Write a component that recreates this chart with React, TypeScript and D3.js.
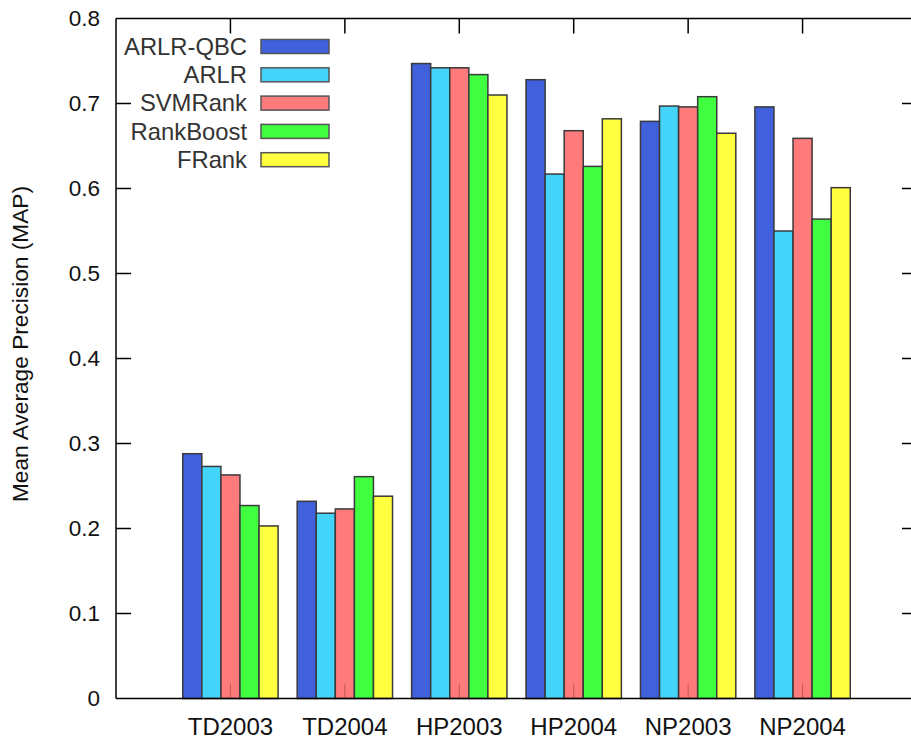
import React from "react";
import * as d3 from "d3";

const categories = ["TD2003", "TD2004", "HP2003", "HP2004", "NP2003", "NP2004"];
const seriesNames = ["ARLR-QBC", "ARLR", "SVMRank", "RankBoost", "FRank"];
const seriesColors = ["#4060dc", "#44d4fa", "#ff7a7a", "#40ff40", "#ffff40"];
const arlrQbc = [0.288, 0.232, 0.747, 0.728, 0.679, 0.696];
const arlr = [0.273, 0.218, 0.742, 0.617, 0.697, 0.550];
const svmRank = [0.263, 0.223, 0.742, 0.668, 0.696, 0.659];
const rankBoost = [0.227, 0.261, 0.734, 0.626, 0.708, 0.564];
const fRank = [0.203, 0.238, 0.710, 0.682, 0.665, 0.601];
const seriesValues = [arlrQbc, arlr, svmRank, rankBoost, fRank];
const yTicks = [0, 0.1, 0.2, 0.3, 0.4, 0.5, 0.6, 0.7, 0.8];

const W = 911;
const H = 740;
const FONT = "'Liberation Sans', Arial, Helvetica, sans-serif";

export default function App() {
  const x = d3.scaleLinear().domain([0, 7]).range([116, 917]);
  const y = d3.scaleLinear().domain([0, 0.8]).range([698.5, 18.5]);
  const bw = 1 / 6;
  const tickLen = 15;

  return (
    <svg
      width={W}
      height={H}
      style={{ position: "absolute", left: 0, top: 0, background: "#fff" }}
      fontFamily={FONT}
    >
      {/* bars */}
      {seriesValues.map((vals, s) => (
        <g key={s}>
          {vals.map((v, c) => {
            const x0 = x(c + 1 + (s - 2.5) * bw);
            const x1 = x(c + 1 + (s - 1.5) * bw);
            return (
              <rect
                key={c}
                x={x0}
                y={y(v)}
                width={x1 - x0}
                height={y(0) - y(v)}
                fill={seriesColors[s]}
                stroke="#3a3a3a"
                strokeWidth={1.5}
              />
            );
          })}
        </g>
      ))}

      {/* x ticks bottom (faint over bars) and top */}
      {categories.map((c, i) => (
        <g key={c}>
          <line
            x1={x(i + 1)}
            x2={x(i + 1)}
            y1={y(0)}
            y2={y(0) - tickLen}
            stroke="#000"
            strokeOpacity={0.25}
            strokeWidth={1}
          />
          <line
            x1={x(i + 1)}
            x2={x(i + 1)}
            y1={y(0.8)}
            y2={y(0.8) + tickLen}
            stroke="#000"
            strokeWidth={1.5}
          />
          <text x={x(i + 1)} y={735} textAnchor="middle" fontSize={24} fill="#111">
            {c}
          </text>
        </g>
      ))}

      {/* axes frame */}
      <line x1={x(0)} x2={W + 10} y1={y(0)} y2={y(0)} stroke="#000" strokeWidth={1.5} />
      <line x1={x(0)} x2={W + 10} y1={y(0.8)} y2={y(0.8)} stroke="#000" strokeWidth={1.5} />
      <line x1={x(0)} x2={x(0)} y1={y(0)} y2={y(0.8)} stroke="#000" strokeWidth={1.5} />
      <line x1={x(7)} x2={x(7)} y1={y(0)} y2={y(0.8)} stroke="#000" strokeWidth={1.5} />

      {/* y ticks */}
      {yTicks.map((t) => (
        <g key={t}>
          {t > 0 && t < 0.8 && (
            <>
              <line x1={x(0)} x2={x(0) + tickLen} y1={y(t)} y2={y(t)} stroke="#000" strokeWidth={1.5} />
              <line x1={x(7)} x2={x(7) - tickLen} y1={y(t)} y2={y(t)} stroke="#000" strokeWidth={1.5} />
            </>
          )}
          <text x={100} y={y(t)} dy="0.35em" textAnchor="end" fontSize={22.5} fill="#111">
            {t === 0 ? "0" : t.toFixed(1)}
          </text>
        </g>
      ))}

      {/* y label */}
      <text
        transform={`translate(28,344) rotate(-90)`}
        textAnchor="middle"
        fontSize={22.7}
        fill="#111"
      >
        Mean Average Precision (MAP)
      </text>

      {/* legend */}
      {seriesNames.map((n, i) => {
        const cy = 46.5 + i * 28.3;
        return (
          <g key={n}>
            <text x={247} y={cy} dy="0.35em" textAnchor="end" fontSize={23.8} fill="#333">
              {n}
            </text>
            <rect
              x={261}
              y={cy - 7}
              width={68}
              height={14}
              fill={seriesColors[i]}
              stroke="#555"
              strokeWidth={1.5}
            />
          </g>
        );
      })}
    </svg>
  );
}
